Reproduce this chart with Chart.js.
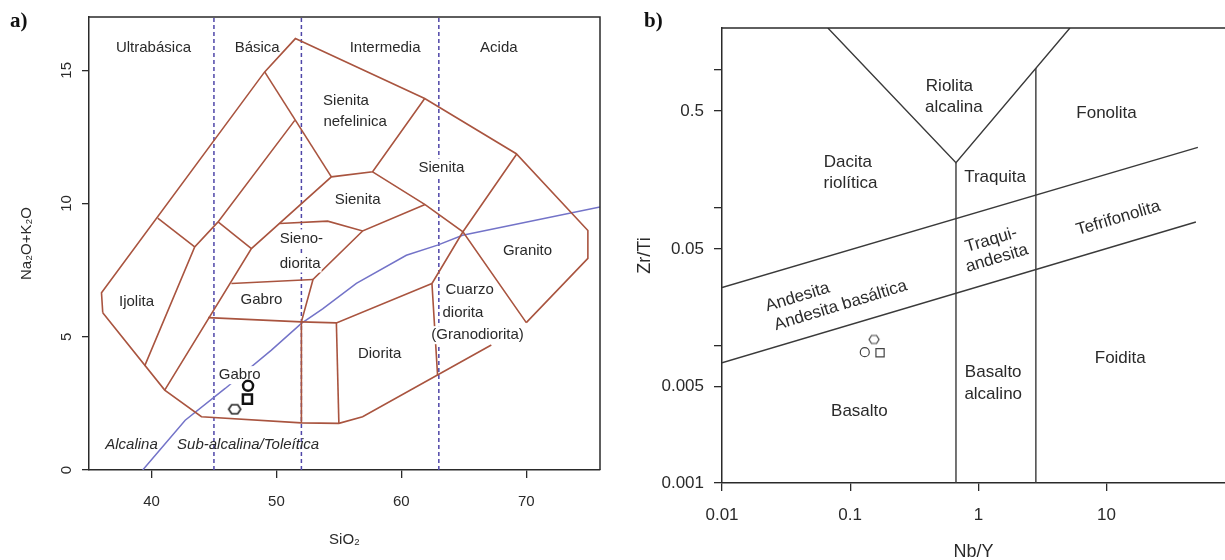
<!DOCTYPE html>
<html>
<head>
<meta charset="utf-8">
<script src="https://cdn.jsdelivr.net/npm/chart.js@4.4.0/dist/chart.umd.min.js"></script>
<style>
  body { margin: 0; background: #fff; width: 1225px; height: 560px; overflow: hidden; position: relative; }
  #wrapA { position: absolute; left: 0; top: 0; width: 610px; height: 560px; }
  #wrapB { position: absolute; left: 610px; top: 0; width: 622px; height: 560px; }
  .tag { position: absolute; font: bold 21px "Liberation Serif", "DejaVu Serif", serif; color: #111; }
</style>
</head>
<body>
<div id="wrapA"><canvas id="tas"></canvas></div>
<div id="wrapB"><canvas id="zrti"></canvas></div>
<div class="tag" style="left:10px;top:8px">a)</div>
<div class="tag" style="left:644px;top:8px">b)</div>
<script>
'use strict';

// ---- panel a) TAS, SiO2 vs Na2O+K2O (wt%) ----
const tasXTicks = [40, 50, 60, 70];
const tasYTicks = [0, 5, 10, 15];
const silicaDivides = [45, 52, 63];

const outerUpper = [[36.1, 5.9], [36.0, 6.65], [49.06, 14.94], [51.52, 16.19], [61.87, 13.94], [69.2, 11.87], [74.93, 8.99], [74.93, 7.94], [70.0, 5.53]];
const outerLower = [[36.1, 5.9], [41.06, 3.0], [44.0, 2.0], [52.0, 1.77], [55.0, 1.75], [56.9, 2.0], [67.2, 4.69]];
const neSyeniteLeft = [[49.06, 14.94], [54.4, 11.0]];
const innerDiagonal = [[51.47, 13.12], [45.33, 9.31], [43.46, 8.37], [39.45, 3.9]];
const ijoliteTop = [[40.5, 9.45], [43.46, 8.37]];
const basicCross = [[45.33, 9.31], [48.0, 8.31]];
const gabbroDiagonal = [[41.06, 3.0], [48.0, 8.31], [54.4, 11.0], [57.7, 11.19], [61.87, 13.94]];
const syeniteRight = [[57.7, 11.19], [61.9, 9.96], [64.93, 8.94], [70.0, 5.53]];
const graniteLeft = [[69.25, 11.87], [64.93, 8.94], [62.45, 7.0], [62.9, 3.55]];
const syenodioriteTop = [[50.26, 9.25], [54.1, 9.34], [56.9, 8.97], [61.9, 9.96]];
const syenodioriteRight = [[56.9, 8.97], [52.93, 7.15], [52.0, 5.56], [52.0, 1.77]];
const gabbroUpperTop = [[46.4, 7.0], [52.93, 7.15]];
const gabbroLowerTop = [[44.53, 5.72], [52.0, 5.56], [54.8, 5.52], [62.45, 7.0]];
const dioriteLeft = [[54.8, 5.52], [55.0, 1.75]];

const alkalineDivide = [[39.3, 0], [42.7, 1.87], [45.9, 3.06], [49.6, 4.5], [52.0, 5.5], [53.7, 6.05], [56.4, 7.0], [60.4, 8.06], [62.9, 8.44], [64.9, 8.81], [75.9, 9.87]];

const tasCircle = [47.73, 3.16];
const tasSquare = [47.68, 2.66];
const tasHexagon = [46.66, 2.28];

const tasLabels = [
  {text: 'Ultrabásica', x: 40.16, y: 15.85},
  {text: 'Básica', x: 48.46, y: 15.85},
  {text: 'Intermedia', x: 58.7, y: 15.85},
  {text: 'Acida', x: 67.8, y: 15.85},
  {text: 'Sienita', x: 55.57, y: 13.87},
  {text: 'nefelinica', x: 56.3, y: 13.06},
  {text: 'Sienita', x: 63.2, y: 11.35, bg: true},
  {text: 'Sienita', x: 56.5, y: 10.12},
  {text: 'Sieno-', x: 52.0, y: 8.69, bg: true},
  {text: 'diorita', x: 51.9, y: 7.75, bg: true},
  {text: 'Gabro', x: 48.8, y: 6.4},
  {text: 'Ijolita', x: 38.8, y: 6.31},
  {text: 'Gabro', x: 47.06, y: 3.56, bg: true},
  {text: 'Diorita', x: 58.26, y: 4.37},
  {text: 'Cuarzo', x: 65.46, y: 6.75},
  {text: 'diorita', x: 64.93, y: 5.9},
  {text: '(Granodiorita)', x: 66.1, y: 5.06, bg: true},
  {text: 'Granito', x: 70.1, y: 8.22},
  {text: 'Alcalina', x: 38.4, y: 0.94, italic: true},
  {text: 'Sub-alcalina/Toleítica', x: 47.73, y: 0.94, italic: true}
];

// ---- panel b) Nb/Y vs Zr/Ti (log-log) ----
const nbyXTicks = [0.01, 0.1, 1, 10];
const zrtiYTicks = [0.001, 0.005, 0.01, 0.05, 0.1, 0.5, 1];
const zrtiYLabelled = [0.001, 0.005, 0.05, 0.5];

const rhyoliteV = [[0.067, 2], [0.669, 0.211], [5.18, 2]];
const alkaliBasaltLeft = [[0.669, 0.211], [0.669, 0.001]];
const foiditeLeft = [[2.81, 1.025], [2.81, 0.001]];
const upperDiagonal = [[0.01, 0.0262], [51.6, 0.272]];
const lowerDiagonal = [[0.01, 0.00745], [49.8, 0.0783]];

const zrtiHexagon = [0.1535, 0.0110];
const zrtiCircle = [0.130, 0.0089];
const zrtiSquare = [0.171, 0.0088];

const zrtiLabels = [
  {text: 'Riolita', x: 0.595, y: 0.754},
  {text: 'alcalina', x: 0.645, y: 0.529},
  {text: 'Fonolita', x: 10.0, y: 0.481},
  {text: 'Dacita', x: 0.0958, y: 0.212},
  {text: 'riolítica', x: 0.1005, y: 0.150},
  {text: 'Traquita', x: 1.35, y: 0.165},
  {text: 'Tefrifonolita', x: 12.36, y: 0.0833, angle: -16.5},
  {text: 'Traqui-', x: 1.26, y: 0.0579, angle: -16.5},
  {text: 'andesita', x: 1.397, y: 0.0426, angle: -16.5},
  {text: 'Andesita', x: 0.0389, y: 0.0223, angle: -17},
  {text: 'Andesita basáltica', x: 0.0843, y: 0.0194, angle: -17},
  {text: 'Foidita', x: 12.8, y: 0.00805},
  {text: 'Basalto', x: 1.306, y: 0.00633},
  {text: 'alcalino', x: 1.306, y: 0.00440},
  {text: 'Basalto', x: 0.118, y: 0.00333}
];

Chart.defaults.font.family = '"Liberation Sans", Arial, sans-serif';
Chart.defaults.color = '#333';

const FIELD = '#a9543f';
const INK = '#2a2a2a';

const toXY = pts => pts.map(p => ({x: p[0], y: p[1]}));

function lineSet(pts, color, width, dash) {
  return {
    data: toXY(pts), showLine: true, borderColor: color, borderWidth: width,
    borderDash: dash || [], pointRadius: 0, pointHoverRadius: 0, fill: false
  };
}

function markerSet(pt, style, radius, width, color) {
  return {
    data: toXY([pt]), showLine: false, pointStyle: style,
    pointRadius: radius, pointHoverRadius: radius,
    borderColor: color, pointBorderColor: color, pointBackgroundColor: 'rgba(0,0,0,0)',
    pointBorderWidth: width
  };
}

function hexagon(w, h, lw, color) {
  const c = document.createElement('canvas');
  c.width = w + 4;
  c.height = h + 4;
  const g = c.getContext('2d');
  const cx = c.width / 2, cy = c.height / 2, rx = w / 2, ry = h / 2;
  g.beginPath();
  g.moveTo(cx - rx, cy);
  g.lineTo(cx - rx / 2, cy - ry);
  g.lineTo(cx + rx / 2, cy - ry);
  g.lineTo(cx + rx, cy);
  g.lineTo(cx + rx / 2, cy + ry);
  g.lineTo(cx - rx / 2, cy + ry);
  g.closePath();
  g.lineWidth = lw;
  g.strokeStyle = color;
  g.stroke();
  return c;
}

// draws the field names; drawn after the line with index `afterIndex`
function labelPlugin(items, size, afterIndex) {
  return {
    id: 'fieldLabels',
    afterDatasetDraw(chart, args) {
      if (args.index !== afterIndex) return;
      const {ctx, scales} = chart;
      items.forEach(it => {
        const px = scales.x.getPixelForValue(it.x);
        const py = scales.y.getPixelForValue(it.y);
        ctx.save();
        ctx.translate(px, py);
        ctx.rotate((it.angle || 0) * Math.PI / 180);
        ctx.font = (it.italic ? 'italic ' : '') + size + 'px "Liberation Sans", Arial, sans-serif';
        ctx.textAlign = 'center';
        ctx.textBaseline = 'middle';
        if (it.bg) {
          const w = ctx.measureText(it.text).width;
          ctx.fillStyle = '#fff';
          ctx.fillRect(-w / 2 - 1, -size * 0.6, w + 2, size * 1.2);
        }
        ctx.fillStyle = INK;
        ctx.fillText(it.text, 0, 0);
        ctx.restore();
      });
    }
  };
}

function framePlugin(withRight) {
  return {
    id: 'frame',
    afterDatasetsDraw(chart) {
      const {ctx, chartArea: a} = chart;
      ctx.save();
      ctx.strokeStyle = INK;
      ctx.lineWidth = 1.5;
      ctx.beginPath();
      ctx.moveTo(a.left, a.top);
      ctx.lineTo(a.right, a.top);
      if (withRight) ctx.lineTo(a.right, a.bottom);
      ctx.stroke();
      ctx.restore();
    }
  };
}

// ---------- chart a ----------
const tasDatasets = [
  markerSet(tasCircle, 'circle', 5, 2.5, '#111'),
  markerSet(tasSquare, 'rect', 6.4, 2.5, '#111'),
  markerSet(tasHexagon, hexagon(12, 9, 1.6, '#222'), 6, 1, '#222')
];
const firstLine = tasDatasets.length;
[outerUpper, outerLower, neSyeniteLeft, innerDiagonal, ijoliteTop, basicCross, gabbroDiagonal,
 syeniteRight, graniteLeft, syenodioriteTop, syenodioriteRight, gabbroUpperTop, gabbroLowerTop, dioriteLeft]
  .forEach(l => tasDatasets.push(lineSet(l, FIELD, 1.6)));
tasDatasets.push(lineSet(alkalineDivide, '#7373c8', 1.5));
silicaDivides.forEach(s => tasDatasets.push(lineSet([[s, 0], [s, 17]], '#4f46a8', 1.5, [4, 3])));

new Chart(document.getElementById('tas'), {
  type: 'scatter',
  data: {datasets: tasDatasets},
  options: {
    responsive: true,
    maintainAspectRatio: false,
    animation: false,
    layout: {padding: {top: 17, right: 10, bottom: 0, left: 0}},
    plugins: {legend: {display: false}, tooltip: {enabled: false}},
    scales: {
      x: {
        type: 'linear', min: 35, max: 75.9,
        afterBuildTicks: s => { s.ticks = tasXTicks.map(v => ({value: v})); },
        afterFit: s => { s.height = 90; },
        grid: {drawOnChartArea: false, drawTicks: true, tickLength: 8, color: INK, lineWidth: 1.3},
        border: {display: true, color: INK, width: 1.5},
        ticks: {font: {size: 15}, color: INK, padding: 15},
        title: {display: true, text: 'SiO₂', font: {size: 15}, color: INK, padding: {top: 0, bottom: 11}}
      },
      y: {
        type: 'linear', min: 0, max: 17,
        afterBuildTicks: s => { s.ticks = tasYTicks.map(v => ({value: v})); },
        afterFit: s => { s.width = 89; },
        grid: {drawOnChartArea: false, drawTicks: true, tickLength: 7, color: INK, lineWidth: 1.3},
        border: {display: true, color: INK, width: 1.5},
        ticks: {font: {size: 15}, color: INK, padding: 7, minRotation: 90, maxRotation: 90, crossAlign: 'center'},
        title: {display: true, text: 'Na₂O+K₂O', font: {size: 15}, color: INK, padding: {top: 18, bottom: 0}}
      }
    }
  },
  plugins: [framePlugin(true), labelPlugin(tasLabels, 15, firstLine)]
});

// ---------- chart b ----------
const LINE_B = '#3a3a3a';
const zrtiDatasets = [
  markerSet(zrtiHexagon, hexagon(10, 8, 1.2, '#444'), 5, 1, '#444'),
  markerSet(zrtiCircle, 'circle', 4.5, 1.2, '#444'),
  markerSet(zrtiSquare, 'rect', 5.8, 1.2, '#444')
];
const firstLineB = zrtiDatasets.length;
[rhyoliteV, alkaliBasaltLeft, foiditeLeft, upperDiagonal, lowerDiagonal]
  .forEach(l => zrtiDatasets.push(lineSet(l, LINE_B, 1.4)));

new Chart(document.getElementById('zrti'), {
  type: 'scatter',
  data: {datasets: zrtiDatasets},
  options: {
    responsive: true,
    maintainAspectRatio: false,
    animation: false,
    layout: {padding: {top: 28, right: 0, bottom: 0, left: 0}},
    plugins: {legend: {display: false}, tooltip: {enabled: false}},
    scales: {
      x: {
        type: 'logarithmic', min: 0.01, max: 84,
        afterBuildTicks: s => { s.ticks = nbyXTicks.map(v => ({value: v})); },
        afterFit: s => { s.height = 77; },
        grid: {drawOnChartArea: false, drawTicks: true, tickLength: 8, color: INK, lineWidth: 1.3},
        border: {display: true, color: INK, width: 1.5},
        ticks: {font: {size: 17}, color: INK, padding: 14, callback: v => String(v)},
        title: {display: true, text: 'Nb/Y', font: {size: 18}, color: INK, padding: {top: 0, bottom: -3}}
      },
      y: {
        type: 'logarithmic', min: 0.001, max: 2,
        afterBuildTicks: s => { s.ticks = zrtiYTicks.map(v => ({value: v})); },
        afterFit: s => { s.width = 112; },
        grid: {drawOnChartArea: false, drawTicks: true, tickLength: 8, color: INK, lineWidth: 1.3},
        border: {display: true, color: INK, width: 1.5},
        ticks: {font: {size: 17}, color: INK, padding: 10,
          callback: v => zrtiYLabelled.includes(v) ? String(v) : ''},
        title: {display: true, text: 'Zr/Ti', font: {size: 18}, color: INK, padding: {top: 24, bottom: 0}}
      }
    }
  },
  plugins: [framePlugin(false), labelPlugin(zrtiLabels, 17, firstLineB)]
});
</script>
</body>
</html>
